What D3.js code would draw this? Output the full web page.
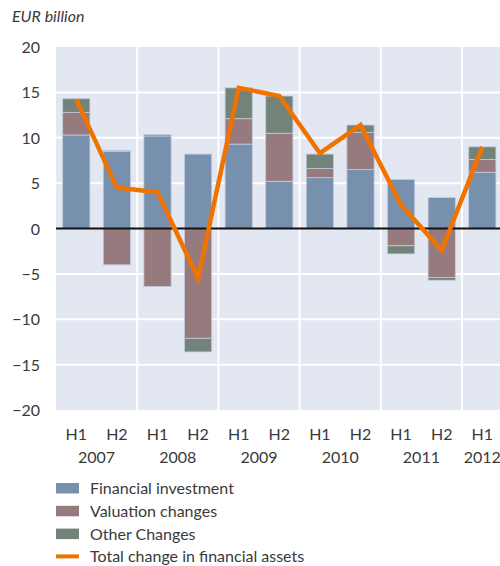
<!DOCTYPE html>
<html lang="en">
<head>
  <meta charset="UTF-8">
  <title>EUR billion</title>
  <script src="https://cdn.jsdelivr.net/npm/d3@7"></script>
  <style>
    body { margin: 0; background: #fff; }
    text { font-family: Lato, "Open Sans", sans-serif; fill: #3a3a3a; }
  </style>
</head>
<body>
  <script>
    // data
    const periods = ["H1", "H2", "H1", "H2", "H1", "H2", "H1", "H2", "H1", "H2", "H1"];
    const years = ["2007", "2008", "2009", "2010", "2011", "2012"];
    const financialInvestment = [10.3, 8.5, 10.2, 8.2, 9.3, 5.2, 5.6, 6.5, 5.4, 3.4, 6.2];
    const valuationChanges = [2.5, -4.0, -6.4, -12.1, 2.8, 5.3, 1.0, 4.1, -1.9, -5.4, 1.4];
    const otherChanges = [1.5, 0.1, 0.15, -1.5, 3.4, 4.1, 1.6, 0.8, -0.9, -0.3, 1.4];
    const totalChange = [14.2, 4.5, 4.0, -5.5, 15.5, 14.6, 8.3, 11.4, 2.6, -2.4, 9.0];
    const yTicks = [-20, -15, -10, -5, 0, 5, 10, 15, 20];

    const width = 500, height = 566;
    const plotLeft = 56, plotTop = 47, plotRight = 500, plotBottom = 410;

    const svg = d3.select("body").append("svg")
      .attr("width", width)
      .attr("height", height);

    const x = d3.scaleBand()
      .domain(periods.map((d, i) => i))
      .range([plotLeft, plotLeft + 11 * 40.6])
      .paddingInner(0.33)
      .paddingOuter(0.165);

    const y = d3.scaleLinear()
      .domain([-20, 20])
      .range([plotBottom, plotTop]);

    // plot background
    svg.append("rect")
      .attr("x", plotLeft).attr("y", plotTop)
      .attr("width", plotRight - plotLeft).attr("height", plotBottom - plotTop)
      .attr("fill", "#e3e7f1");

    // horizontal grid
    svg.append("g").selectAll("line")
      .data(yTicks.filter(d => d !== 0 && d !== 20 && d !== -20))
      .enter().append("line")
      .attr("x1", plotLeft).attr("x2", plotRight)
      .attr("y1", d => y(d)).attr("y2", d => y(d))
      .attr("stroke", "#fff").attr("stroke-width", 2);

    // vertical grid at year boundaries
    const step = x.step();
    svg.append("g").selectAll("line")
      .data(d3.range(2, 11, 2))
      .enter().append("line")
      .attr("x1", i => plotLeft + i * step).attr("x2", i => plotLeft + i * step)
      .attr("y1", plotTop).attr("y2", plotBottom)
      .attr("stroke", "#fff").attr("stroke-width", 2);

    // stack positives up and negatives down
    const series = [
      { key: "Financial investment", values: financialInvestment, color: "#7790ad" },
      { key: "Valuation changes", values: valuationChanges, color: "#977a7e" },
      { key: "Other Changes", values: otherChanges, color: "#73837a" }
    ];
    const segs = [];
    periods.forEach((p, i) => {
      let pos = 0, neg = 0;
      series.forEach(s => {
        const v = s.values[i];
        if (v >= 0) { segs.push({ i, y0: pos, y1: pos + v, color: s.color }); pos += v; }
        else { segs.push({ i, y0: neg + v, y1: neg, color: s.color }); neg += v; }
      });
    });

    svg.append("g").selectAll("rect")
      .data(segs)
      .enter().append("rect")
      .attr("x", d => x(d.i))
      .attr("width", x.bandwidth())
      .attr("y", d => y(d.y1))
      .attr("height", d => y(d.y0) - y(d.y1))
      .attr("fill", d => d.color)
      .attr("stroke", "#c3cbdb")
      .attr("stroke-width", 0.8);

    // zero line
    svg.append("line")
      .attr("x1", plotLeft).attr("x2", plotRight)
      .attr("y1", y(0)).attr("y2", y(0))
      .attr("stroke", "#111").attr("stroke-width", 2);

    // total line
    const line = d3.line()
      .x((d, i) => x(i) + x.bandwidth() / 2)
      .y(d => y(d));
    svg.append("path")
      .datum(totalChange)
      .attr("d", line)
      .attr("fill", "none")
      .attr("stroke", "#f07300")
      .attr("stroke-width", 4.5)
      .attr("stroke-linejoin", "miter");

    // y axis labels
    svg.append("g").selectAll("text")
      .data(yTicks)
      .enter().append("text")
      .attr("x", 40)
      .attr("y", d => y(d) + 6)
      .attr("text-anchor", "end")
      .attr("font-size", 16)
      .text(d => d < 0 ? "\u2212" + Math.abs(d) : d);

    svg.append("text")
      .attr("x", 12).attr("y", 22)
      .attr("font-size", 16)
      .attr("font-style", "italic")
      .text("EUR billion");

    // x labels
    svg.append("g").selectAll("text")
      .data(periods)
      .enter().append("text")
      .attr("x", (d, i) => x(i) + x.bandwidth() / 2)
      .attr("y", 440)
      .attr("text-anchor", "middle")
      .attr("font-size", 16)
      .text(d => d);

    svg.append("g").selectAll("text")
      .data(years)
      .enter().append("text")
      .attr("x", (d, i) => i < 5 ? plotLeft + (2 * i + 1) * step : x(10) + x.bandwidth() / 2)
      .attr("y", 463)
      .attr("text-anchor", "middle")
      .attr("font-size", 16)
      .text(d => d);

    // legend
    const legend = svg.append("g");
    const items = series.map(s => ({ key: s.key, color: s.color, type: "rect" }))
      .concat([{ key: "Total change in financial assets", color: "#f07300", type: "line" }]);
    items.forEach((it, k) => {
      const cy = 488 + k * 22.8;
      if (it.type === "rect") {
        legend.append("rect")
          .attr("x", 56).attr("y", cy - 5)
          .attr("width", 23).attr("height", 10.5)
          .attr("fill", it.color);
      } else {
        legend.append("rect")
          .attr("x", 56).attr("y", cy - 2)
          .attr("width", 23).attr("height", 4)
          .attr("fill", it.color);
      }
      legend.append("text")
        .attr("x", 90).attr("y", cy + 6)
        .attr("font-size", 16)
        .text(it.key);
    });
  </script>
</body>
</html>
